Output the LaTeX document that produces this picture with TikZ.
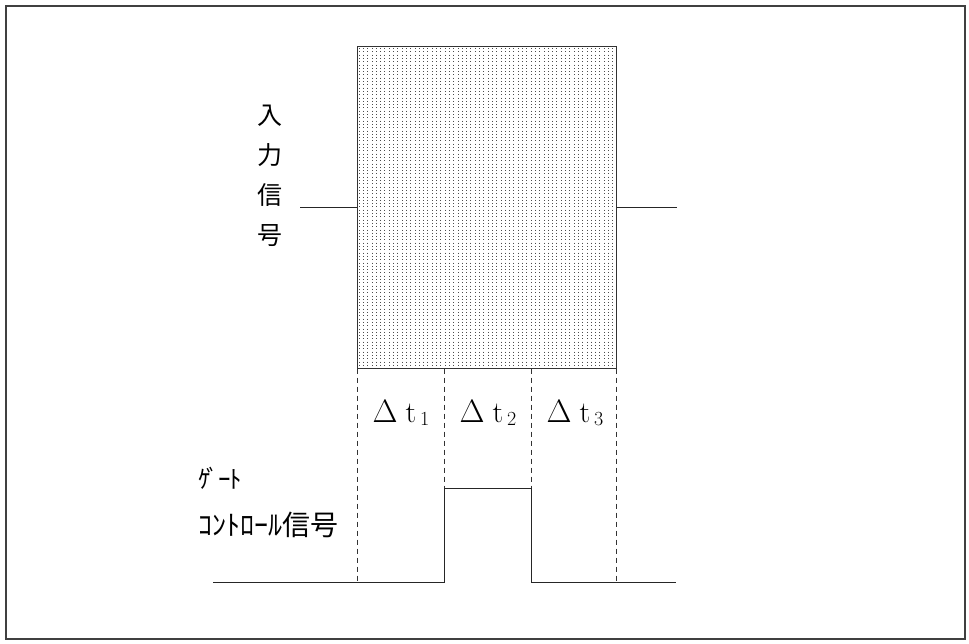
\documentclass[tikz,border=0pt]{standalone}
\usepackage{fontspec}
\usepackage{graphicx}
\newfontfamily\jp{Noto Sans CJK JP}
\newcommand{\dtl}[1]{\scalebox{1.3}{$\Delta$}\hspace{8pt}{\fontsize{30}{30}\selectfont t}\hspace{4pt}\raisebox{-3pt}{\fontsize{20}{20}\selectfont #1}}
\begin{document}
\begin{tikzpicture}[x=1pt,y=-1pt,
  frameline/.style={draw=black!75,line width=1.1pt},
  boxnode/.style={draw=black!80,line width=1pt,minimum width=259pt,minimum height=322pt,inner sep=0pt},
  dotcol/.style={black!70,line width=0.7pt,dash pattern=on 0.9pt off 2.4pt},
  sig/.style={black!85,line width=0.9pt},
  guide/.style={black!80,line width=0.7pt,dash pattern=on 5pt off 4pt},
  dtlabel/.style={font=\fontsize{24}{24}\selectfont,inner sep=0pt},
  jplabel/.style={font=\jp,inner sep=0pt,anchor=west}
]
\useasboundingbox (0,0) rectangle (969,643);
\draw[frameline] (6,6) rectangle (965,639);

% dotted texture of the input box
\foreach \i in {0,...,59} {
  \draw[dotcol] ({359+\i*4.3},48) -- ++(0,319);
}
\node[boxnode] (box) at (486.5,207.5) {};

% input signal lines
\coordinate (inL) at (300,207.5);
\coordinate (inR) at (677,207.5);
\draw[sig] (inL) -- (box.west);
\draw[sig] (box.east) -- (inR);

% input label
\node[font=\jp\fontsize{25}{40}\selectfont,align=center,inner sep=0pt] (inlabel) at (270,176) {入\\力\\信\\号};

% gate control signal
\coordinate (g0) at (213,582);
\coordinate (g1) at (444,582);
\coordinate (g2) at (444,488);
\coordinate (g3) at (531,488);
\coordinate (g4) at (531,582);
\coordinate (g5) at (676,582);
\draw[sig] (g0) -- (g1) -- (g2) -- (g3) -- (g4) -- (g5);

% dashed guides
\coordinate (b1) at (357,368.5);
\coordinate (b2) at (444,368.5);
\coordinate (b3) at (531,368.5);
\coordinate (b4) at (616,368.5);
\coordinate (e1) at (357,582);
\coordinate (e4) at (616,582);
\draw[guide] (b1) -- (e1);
\draw[guide] (b2) -- (g2);
\draw[guide] (b3) -- (g3);
\draw[guide] (b4) -- (e4);

% interval labels
\node[dtlabel] (dt1) at (401,413) {\dtl{1}};
\node[dtlabel] (dt2) at (488,413) {\dtl{2}};
\node[dtlabel] (dt3) at (575,413) {\dtl{3}};

% gate label
\node[jplabel,font=\jp\fontsize{25}{25}\selectfont] (gate1) at (198,478) {ｹ\kern-4pt ﾞ\kern-1pt ｰ\kern-1pt ﾄ};
\node[jplabel,font=\jp\fontsize{28}{28}\selectfont] (gate2) at (198,525) {ｺﾝﾄﾛｰﾙ信号};
\end{tikzpicture}
\end{document}
